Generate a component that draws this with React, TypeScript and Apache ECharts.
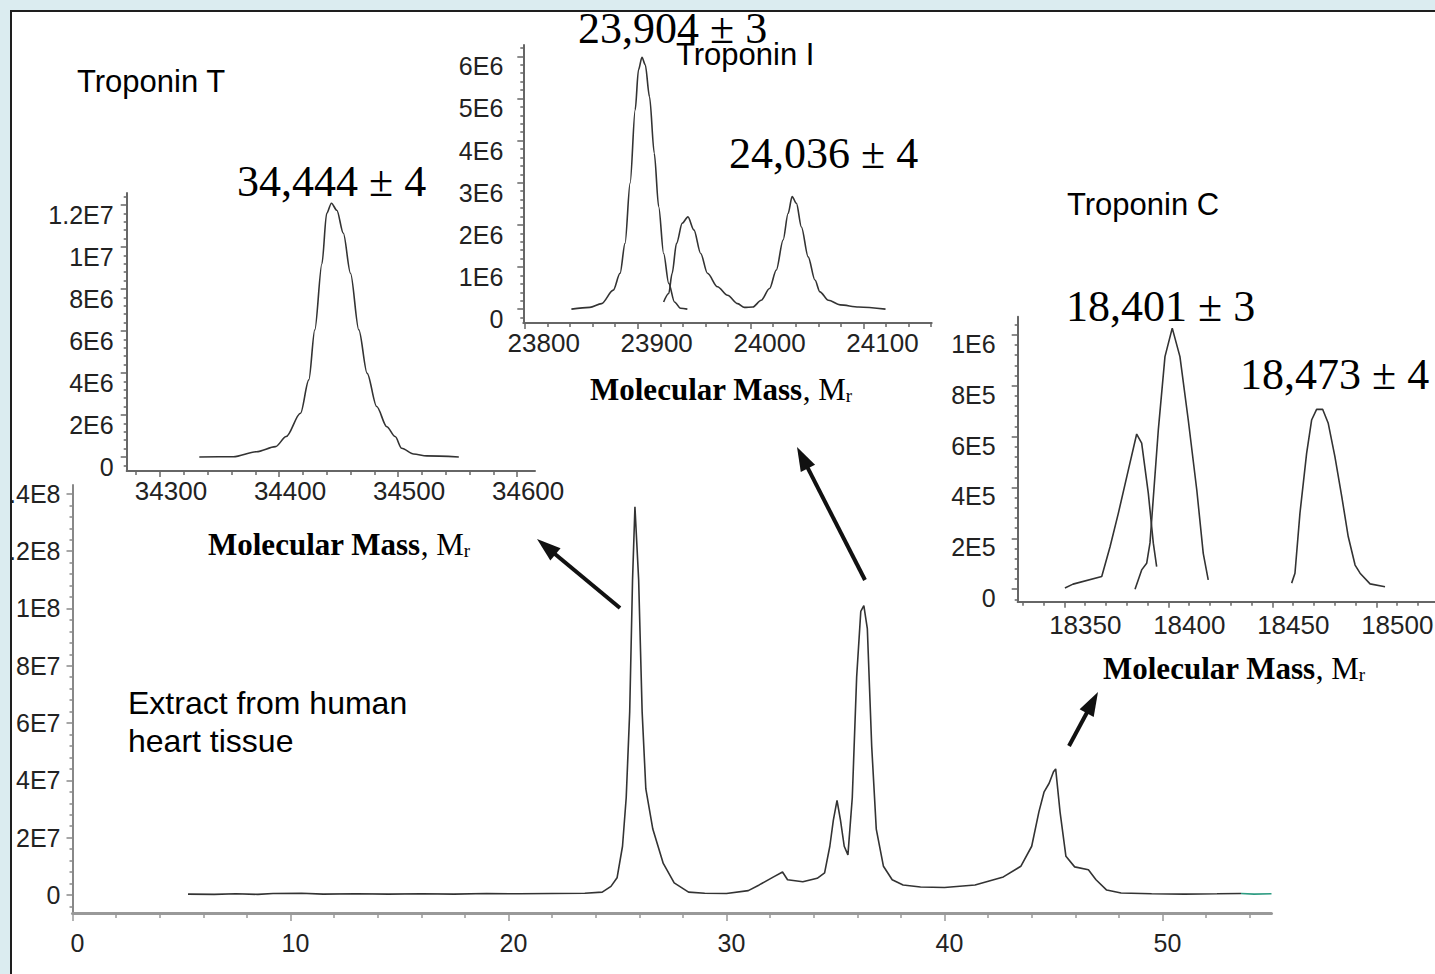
import { useEffect, useRef } from 'react';
import * as echarts from 'echarts';

// ---------- Main chromatogram (retention time, min → intensity) ----------
const mainTrace: [number, number][] = [
  [5.3, 3e5], [6.5, 2e5], [7.5, 4e5], [8.5, 2e5], [9.2, 5e5], [10.5, 6e5], [11.5, 3e5], [13, 4e5],
  [14.5, 3e5], [16, 4e5], [17.5, 3e5], [19, 5e5], [20.5, 4e5], [22, 5e5], [23.5, 6e5], [24.3, 1.0e6],
  [24.7, 3.0e6], [24.98, 6e6], [25.23, 1.7e7], [25.4, 3.4e7], [25.56, 6.4e7], [25.69, 1.1e8], [25.8, 1.355e8],
  [25.97, 1.1e8], [26.13, 6.4e7], [26.3, 3.7e7], [26.62, 2.3e7], [27.1, 1.1e7], [27.6, 4.2e6], [28.26, 1.0e6],
  [29, 6e5], [30, 5e5], [31, 1.5e6], [31.5, 3.5e6], [32.16, 6.3e6], [32.57, 8.0e6], [32.8, 5.3e6], [33.5, 4.6e6],
  [34.16, 5.8e6], [34.5, 7.7e6], [34.74, 1.7e7], [34.9, 2.6e7], [35.07, 3.3e7], [35.23, 2.6e7], [35.4, 1.7e7],
  [35.57, 1.4e7], [35.77, 3.4e7], [35.97, 7.6e7], [36.16, 9.9e7], [36.3, 1.01e8], [36.46, 9.3e7], [36.66, 5.2e7],
  [36.87, 2.3e7], [37.2, 1.0e7], [37.6, 5.3e6], [38.1, 3.5e6], [38.9, 2.8e6], [40, 2.6e6], [41.4, 3.5e6],
  [42.7, 6.3e6], [43.5, 1.0e7], [44.0, 1.7e7], [44.33, 2.9e7], [44.57, 3.6e7], [44.8, 3.9e7], [45.0, 4.3e7],
  [45.1, 4.4e7], [45.3, 2.9e7], [45.57, 1.35e7], [45.97, 9.8e6], [46.6, 8.8e6], [46.95, 5.3e6], [47.44, 1.7e6],
  [48.1, 7e5], [49.5, 4e5], [51, 3e5], [52.5, 4e5], [53.6, 5e5],
];
const mainTail: [number, number][] = [[53.6, 5e5], [54.2, 3e5], [55, 4e5]];

// ---------- Troponin T deconvoluted spectrum ----------
const tntTrace: [number, number][] = [
  [34333, 0], [34361.6, 1e4], [34381, 2.5e5], [34397, 4.9e5], [34406, 9.7e5], [34418, 2.08e6], [34425, 3.67e6],
  [34430, 6.05e6], [34436, 9.2e6], [34440, 1.16e7], [34444, 1.208e7], [34448.5, 1.175e7], [34454, 1.065e7],
  [34460, 8.75e6], [34467, 6.05e6], [34474, 3.98e6], [34482, 2.4e6], [34490.5, 1.44e6], [34497.5, 9.7e5],
  [34503, 4.1e5], [34513, 1.4e5], [34524, 5e4], [34551, 0],
];

// ---------- Troponin I deconvoluted spectrum (two traces) ----------
const tniTraceA: [number, number][] = [
  [23841.3, 0], [23857.6, 4e4], [23868, 1.3e5], [23878.4, 4.5e5], [23884.4, 8.5e5], [23888.8, 1.56e6],
  [23893.3, 2.99e6], [23897.8, 4.73e6], [23900.7, 5.68e6], [23903.8, 5.98e6], [23906.7, 5.8e6], [23910.5, 5.04e6],
  [23914.7, 3.7e6], [23918.6, 2.43e6], [23923, 1.32e6], [23927.5, 6.1e5], [23932.6, 1.7e5], [23938, 2e4], [23944, 0],
];
const tniTraceB: [number, number][] = [
  [23923, 1.7e5], [23927.5, 3.7e5], [23930.5, 8.5e5], [23934.4, 1.56e6], [23939.5, 2.04e6], [23944.5, 2.19e6],
  [23949.8, 1.88e6], [23955.8, 1.32e6], [23961.8, 8.5e5], [23970.7, 5.3e5], [23979.6, 3.3e5], [23988.6, 1.3e5],
  [23994.5, 4e4], [24002, 5e4], [24009.4, 2.1e5], [24016.8, 4.9e5], [24022.8, 9.3e5], [24028.8, 1.64e6],
  [24033.2, 2.27e6], [24036.8, 2.67e6], [24040.6, 2.51e6], [24045, 1.95e6], [24051, 1.24e6], [24057, 6.9e5],
  [24061.4, 4.1e5], [24068.9, 2.1e5], [24079.3, 1e5], [24095.7, 5e4], [24119.5, 0],
];

// ---------- Troponin C deconvoluted spectrum (three traces) ----------
const tncTraceA: [number, number][] = [
  [18350.3, 5e3], [18354.2, 2e4], [18368, 5e4], [18372, 1.67e5], [18376, 2.99e5], [18380.8, 4.69e5],
  [18384.8, 6.1e5], [18387.2, 5.74e5], [18390.4, 3.77e5], [18392.8, 1.81e5], [18394.4, 8.9e4],
];
const tncTraceB: [number, number][] = [
  [18384, 0], [18387.2, 7.6e4], [18389.6, 1.02e5], [18391.2, 1.82e5], [18395.2, 6.26e5], [18398.4, 9.14e5],
  [18401.9, 1.026e6], [18405.6, 9.14e5], [18409.6, 6.65e5], [18413.7, 3.9e5], [18416.8, 1.41e5], [18419.2, 3.7e4],
];
const tncTraceC: [number, number][] = [
  [18459.3, 2.4e4], [18460.9, 6.3e4], [18463.3, 2.99e5], [18466.5, 5.34e5], [18468.9, 6.65e5], [18471.3, 7.07e5],
  [18474.2, 7.07e5], [18476.9, 6.52e5], [18480.1, 5.21e5], [18483.4, 3.64e5], [18486.5, 2.07e5], [18489.8, 9.5e4],
  [18492.2, 6.3e4], [18497, 2.1e4], [18504.2, 1e4],
];

// ---------- Tick labels ----------
const mainXTicks = [0, 10, 20, 30, 40, 50];
const mainYTicks = [0, 2e7, 4e7, 6e7, 8e7, 1e8, 1.2e8, 1.4e8];
const tntXTicks = [34300, 34400, 34500, 34600];
const tntYTicks = [0, 2e6, 4e6, 6e6, 8e6, 1e7, 1.2e7];
const tniXTicks = [23800, 23900, 24000, 24100];
const tniYTicks = [0, 1e6, 2e6, 3e6, 4e6, 5e6, 6e6];
const tncXTicks = [18350, 18400, 18450, 18500];
const tncYTicks = [0, 2e5, 4e5, 6e5, 8e5, 1e6];

// ---------- Texts ----------
const peakLabels = ['34,444 ± 4', '23,904 ± 3', '24,036 ± 4', '18,401 ± 3', '18,473 ± 4'];
const proteinNames = ['Troponin T', 'Troponin I', 'Troponin C'];
const sampleNote = ['Extract from human', 'heart tissue'];

function steps(start: number, end: number, step: number, skip: number[]): number[] {
  const out: number[] = [];
  const n = Math.round((end - start) / step);
  for (let i = 0; i <= n; i++) {
    const v = Number((start + i * step).toPrecision(10));
    if (!skip.some((s) => Math.abs(s - v) < step * 1e-6)) out.push(v);
  }
  return out;
}

const SANS = "'Liberation Sans', Arial, sans-serif";
const SERIF = "'Liberation Serif', 'Times New Roman', serif";

function sci(v: number): string {
  if (v === 0) return '0';
  const e = Math.floor(Math.log10(Math.abs(v)) + 1e-9);
  const m = Math.round((v / Math.pow(10, e)) * 100) / 100;
  return `${m}E${e}`;
}

type AxOpt = {
  color: string; lw: number; tick: number; minor: number; margin: number; fs: number; shift: number;
};

function xMajor(g: number, min: number, max: number, ticks: number[], o: AxOpt) {
  return {
    type: 'value', gridIndex: g, min, max, position: 'bottom',
    axisLine: { show: true, onZero: false, lineStyle: { color: o.color, width: o.lw } },
    axisTick: { show: true, inside: false, length: o.tick, customValues: ticks, lineStyle: { color: o.color, width: 1.5 } },
    axisLabel: {
      show: true, customValues: ticks, formatter: (v: number) => String(v), margin: o.margin,
      color: '#222', fontFamily: SANS, fontSize: o.fs, padding: [0, 0, 0, o.shift * 2],
    },
    splitLine: { show: false }, minorTick: { show: false }, minorSplitLine: { show: false },
  };
}
function xMinor(g: number, min: number, max: number, ticks: number[], o: AxOpt) {
  return {
    type: 'value', gridIndex: g, min, max, position: 'bottom',
    axisLine: { show: false, onZero: false },
    axisTick: { show: true, inside: false, length: o.minor, customValues: ticks, lineStyle: { color: o.color, width: 1.5 } },
    axisLabel: { show: false }, splitLine: { show: false },
  };
}
function yMajor(g: number, min: number, max: number, ticks: number[], o: AxOpt) {
  // shift > 0: labels sit a little below their ticks, as in the reference insets
  const labelPos = o.shift > 0
    ? { verticalAlign: 'top', lineHeight: o.shift * 2 }
    : { verticalAlign: 'middle' };
  return {
    type: 'value', gridIndex: g, min, max, position: 'left',
    axisLine: { show: true, onZero: false, lineStyle: { color: o.color, width: o.lw } },
    axisTick: { show: true, inside: false, length: o.tick, customValues: ticks, lineStyle: { color: o.color, width: 1.5 } },
    axisLabel: {
      show: true, customValues: ticks, formatter: sci, margin: o.margin,
      color: '#222', fontFamily: SANS, fontSize: o.fs, ...labelPos,
    },
    splitLine: { show: false }, minorTick: { show: false }, minorSplitLine: { show: false },
  };
}
function yMinor(g: number, min: number, max: number, ticks: number[], o: AxOpt) {
  return {
    type: 'value', gridIndex: g, min, max, position: 'left',
    axisLine: { show: false, onZero: false },
    axisTick: { show: true, inside: false, length: o.minor, customValues: ticks, lineStyle: { color: o.color, width: 1.5 } },
    axisLabel: { show: false }, splitLine: { show: false },
  };
}

function line(xi: number, yi: number, data: [number, number][], color = '#333', smooth: number | boolean = false) {
  return {
    type: 'line', xAxisIndex: xi, yAxisIndex: yi, data, showSymbol: false, symbol: 'none',
    smooth, smoothMonotone: 'x',
    lineStyle: { color, width: 1.6 }, silent: true, z: 3,
  };
}

function text(x: number, y: number, t: string, family: string, size: number, weight = 'normal') {
  return {
    type: 'text', x, y, z: 60,
    style: {
      text: t, fill: '#000', fontFamily: family, fontSize: size, fontWeight: weight,
      align: 'left', verticalAlign: 'middle', textAlign: 'left', textVerticalAlign: 'middle',
    },
  };
}

function axisTitle(x: number, y: number) {
  return {
    type: 'text', x, y, z: 60,
    style: {
      text: '{b|Molecular Mass}{m|, M}{s|r}',
      align: 'left', verticalAlign: 'middle', textAlign: 'left', textVerticalAlign: 'middle',
      rich: {
        b: { fontFamily: SERIF, fontWeight: 'bold', fontSize: 31, fill: '#000', color: '#000', lineHeight: 32 },
        m: { fontFamily: SERIF, fontWeight: 'normal', fontSize: 31, fill: '#000', color: '#000', lineHeight: 32 },
        s: { fontFamily: SERIF, fontWeight: 'normal', fontSize: 19, fill: '#000', color: '#000', lineHeight: 14, verticalAlign: 'bottom' },
      },
    },
  };
}

function arrow(x1: number, y1: number, x2: number, y2: number) {
  const dx = x2 - x1, dy = y2 - y1;
  const L = Math.hypot(dx, dy);
  const ux = dx / L, uy = dy / L;
  const hl = 24, hw = 16;
  const bx = x2 - ux * hl, by = y2 - uy * hl;
  return [
    { type: 'line', z: 60, shape: { x1, y1, x2: bx + ux * 3, y2: by + uy * 3 }, style: { stroke: '#111', lineWidth: 4 } },
    {
      type: 'polygon', z: 60,
      shape: { points: [[x2, y2], [bx - (uy * hw) / 2, by + (ux * hw) / 2], [bx + (uy * hw) / 2, by - (ux * hw) / 2]] },
      style: { fill: '#111' },
    },
  ];
}

const mainX: AxOpt = { color: '#999', lw: 3, tick: 8, minor: 5, margin: 17, fs: 25, shift: 5 };
const mainY: AxOpt = { color: '#888', lw: 2, tick: 6, minor: 3, margin: 12, fs: 25, shift: 0 };
const tntX: AxOpt = { color: '#666', lw: 2, tick: 6, minor: 4, margin: 7, fs: 26, shift: 11 };
const tntY: AxOpt = { color: '#666', lw: 2, tick: 6, minor: 3, margin: 13, fs: 25, shift: 10 };
const tniX: AxOpt = { color: '#666', lw: 2, tick: 6, minor: 4, margin: 7, fs: 26, shift: 19 };
const tniY: AxOpt = { color: '#666', lw: 2, tick: 6, minor: 3, margin: 20, fs: 25, shift: 10 };
const tncX: AxOpt = { color: '#666', lw: 2, tick: 6, minor: 4, margin: 10, fs: 26, shift: 21 };
const tncY: AxOpt = { color: '#666', lw: 2, tick: 6, minor: 3, margin: 22, fs: 25, shift: 9 };

const option = {
  animation: false,
  backgroundColor: 'transparent',
  grid: [
    { left: 72.5, top: 485, width: 1199, height: 428, outerBoundsMode: 'none', containLabel: false },
    { left: 126.7, top: 193, width: 408.3, height: 278, outerBoundsMode: 'none', containLabel: false },
    { left: 523.3, top: 45, width: 408.4, height: 278, outerBoundsMode: 'none', containLabel: false },
    { left: 1017.7, top: 316.7, width: 441.8, height: 285, outerBoundsMode: 'none', containLabel: false },
  ],
  xAxis: [
    xMajor(0, 0, 55, mainXTicks, mainX),
    xMinor(0, 0, 55, steps(2, 54, 2, mainXTicks), mainX),
    xMajor(1, 34272, 34615, tntXTicks, tntX),
    xMinor(1, 34272, 34615, steps(34280, 34600, 20, tntXTicks), tntX),
    xMajor(2, 23798.7, 24160.4, tniXTicks, tniX),
    xMinor(2, 23798.7, 24160.4, steps(23820, 24160, 20, tniXTicks), tniX),
    xMajor(3, 18327.6, 18540, tncXTicks, tncX),
    xMinor(3, 18327.6, 18540, steps(18330, 18540, 10, tncXTicks), tncX),
  ],
  yAxis: [
    yMajor(0, -6.3e6, 1.431e8, mainYTicks, mainY),
    yMinor(0, -6.3e6, 1.431e8, steps(-4e6, 1.4e8, 4e6, mainYTicks), mainY),
    yMajor(1, -6.7e5, 1.257e7, tntYTicks, tntY),
    yMinor(1, -6.7e5, 1.257e7, steps(-4e5, 1.24e7, 4e5, tntYTicks), tntY),
    yMajor(2, -3.3e5, 6.27e6, tniYTicks, tniY),
    yMinor(2, -3.3e5, 6.27e6, steps(-2e5, 6.2e6, 2e5, tniYTicks), tniY),
    yMajor(3, -4.9e4, 1.071e6, tncYTicks, tncY),
    yMinor(3, -4.9e4, 1.071e6, steps(-4e4, 1.04e6, 4e4, tncYTicks), tncY),
  ],
  series: [
    line(0, 0, mainTrace),
    line(0, 0, mainTail, '#2e9c82'),
    line(2, 2, tntTrace, '#333', 0.3),
    line(4, 4, tniTraceA, '#333', 0.3),
    line(4, 4, tniTraceB, '#333', 0.3),
    line(6, 6, tncTraceA),
    line(6, 6, tncTraceB),
    line(6, 6, tncTraceC),
  ],
  graphic: [
    text(237, 181, peakLabels[0], SERIF, 44),
    text(578, 28, peakLabels[1], SERIF, 44),
    text(729, 153, peakLabels[2], SERIF, 44),
    text(1066, 306, peakLabels[3], SERIF, 44),
    text(1240, 374, peakLabels[4], SERIF, 44),
    text(77, 81, proteinNames[0], SANS, 31),
    text(676, 54, proteinNames[1], SANS, 31),
    text(1067, 204, proteinNames[2], SANS, 31),
    text(128, 703, sampleNote[0], SANS, 32),
    text(128, 741, sampleNote[1], SANS, 32),
    axisTitle(208, 544),
    axisTitle(590, 389),
    axisTitle(1103, 668),
    ...arrow(620, 608, 537, 539),
    ...arrow(865, 580, 797, 447),
    ...arrow(1069, 746, 1098, 692),
  ],
};

export default function App() {
  const ref = useRef<HTMLDivElement>(null);
  useEffect(() => {
    if (!ref.current) return;
    const chart = echarts.init(ref.current, null, { renderer: 'svg', width: 1435, height: 974 });
    chart.setOption(option as any);
    return () => chart.dispose();
  }, []);
  return (
    <div style={{ position: 'fixed', left: 0, top: 0, width: 1435, height: 974, background: '#dbecf0', overflow: 'hidden' }}>
      <div style={{ position: 'absolute', left: 10, top: 10, width: 1500, height: 1100, background: '#fff', border: '2px solid #1e1e1e' }} />
      <div ref={ref} style={{ position: 'absolute', left: 0, top: 0, width: 1435, height: 974 }} />
      <div style={{ position: 'absolute', left: 0, top: 10, width: 10, height: 964, background: '#dbecf0', borderRight: '2px solid #1e1e1e' }} />
    </div>
  );
}
